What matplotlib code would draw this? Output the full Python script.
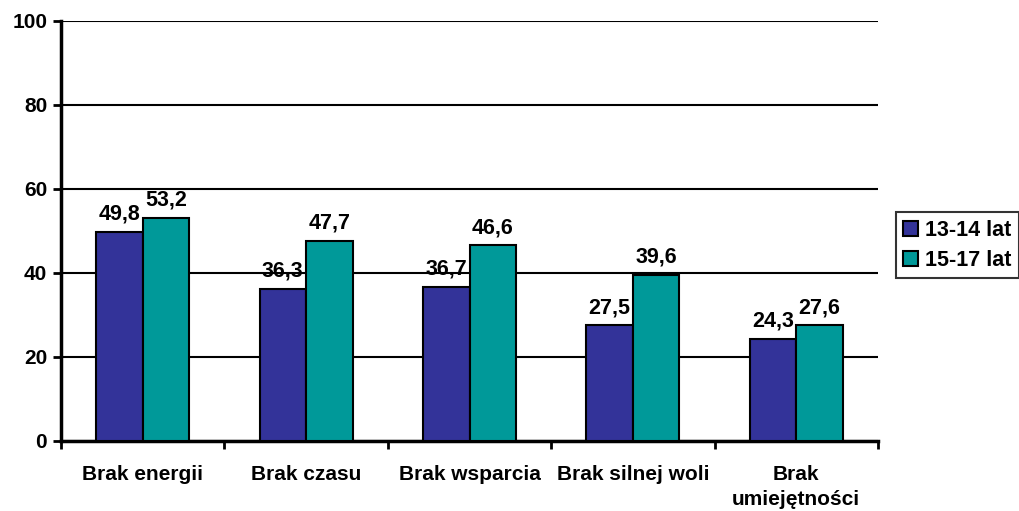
import numpy as np, matplotlib
matplotlib.use('Agg')
import matplotlib.pyplot as plt

categories = ['Brak energii', 'Brak czasu', 'Brak wsparcia', 'Brak silnej woli', 'Brak\numiejętności']
series_names = ['13-14 lat', '15-17 lat']
vals_1314 = [49.8, 36.3, 36.7, 27.5, 24.3]
vals_1517 = [53.2, 47.7, 46.6, 39.6, 27.6]
colors = ['#333399', '#009999']

plt.rcParams['font.family'] = ['Liberation Sans', 'DejaVu Sans']
plt.rcParams['font.weight'] = 'bold'

fig = plt.figure(figsize=(10.19, 5.11), dpi=100)
ax = fig.add_axes([0.0599, 0.137, 0.8017, 0.822])

x = np.arange(len(categories))
w = 0.285
for i, (vals, name) in enumerate(zip([vals_1314, vals_1517], series_names)):
    pos = x + (i - 0.5) * w
    bars = ax.bar(pos, vals, w, color=colors[i], edgecolor='black', linewidth=1.5, label=name, zorder=3)
    for b, v in zip(bars, vals):
        ax.annotate(f'{v:.1f}'.replace('.', ','), (b.get_x() + b.get_width() / 2, v),
                    xytext=(0, 5), textcoords='offset points', ha='center', va='bottom',
                    fontsize=15.5, fontweight='bold')

ax.set_xlim(-0.5, len(categories) - 0.5)
ax.set_ylim(0, 100)
ax.set_yticks([0, 20, 40, 60, 80, 100])
ax.yaxis.grid(True, color='black', linewidth=1.5, zorder=0)
ax.set_axisbelow(True)

ax.set_xticks(x)
ax.set_xticklabels(categories, fontsize=15, fontweight='bold', linespacing=1.45)
ax.tick_params(axis='x', length=0, pad=17)
ax.set_xticks(np.arange(len(categories) + 1) - 0.5, minor=True)
ax.tick_params(axis='x', which='minor', length=6, width=2)
ax.tick_params(axis='y', length=6, width=2, labelsize=15, pad=4)
for t in ax.get_yticklabels():
    t.set_fontweight('bold')

for s in ['top', 'right']:
    ax.spines[s].set_visible(False)
for s in ['left', 'bottom']:
    ax.spines[s].set_linewidth(2.5)

leg = fig.legend(loc='center left', bbox_to_anchor=(0.879, 0.52), frameon=True, fancybox=False,
                 edgecolor='black', fontsize=15.5, handlelength=0.7, handleheight=0.7,
                 handletextpad=0.3, borderpad=0.35, labelspacing=0.4, borderaxespad=0)
leg.get_frame().set_linewidth(1.5)
for t in leg.get_texts():
    t.set_fontweight('bold')

fig.savefig('out.png', dpi=100)
